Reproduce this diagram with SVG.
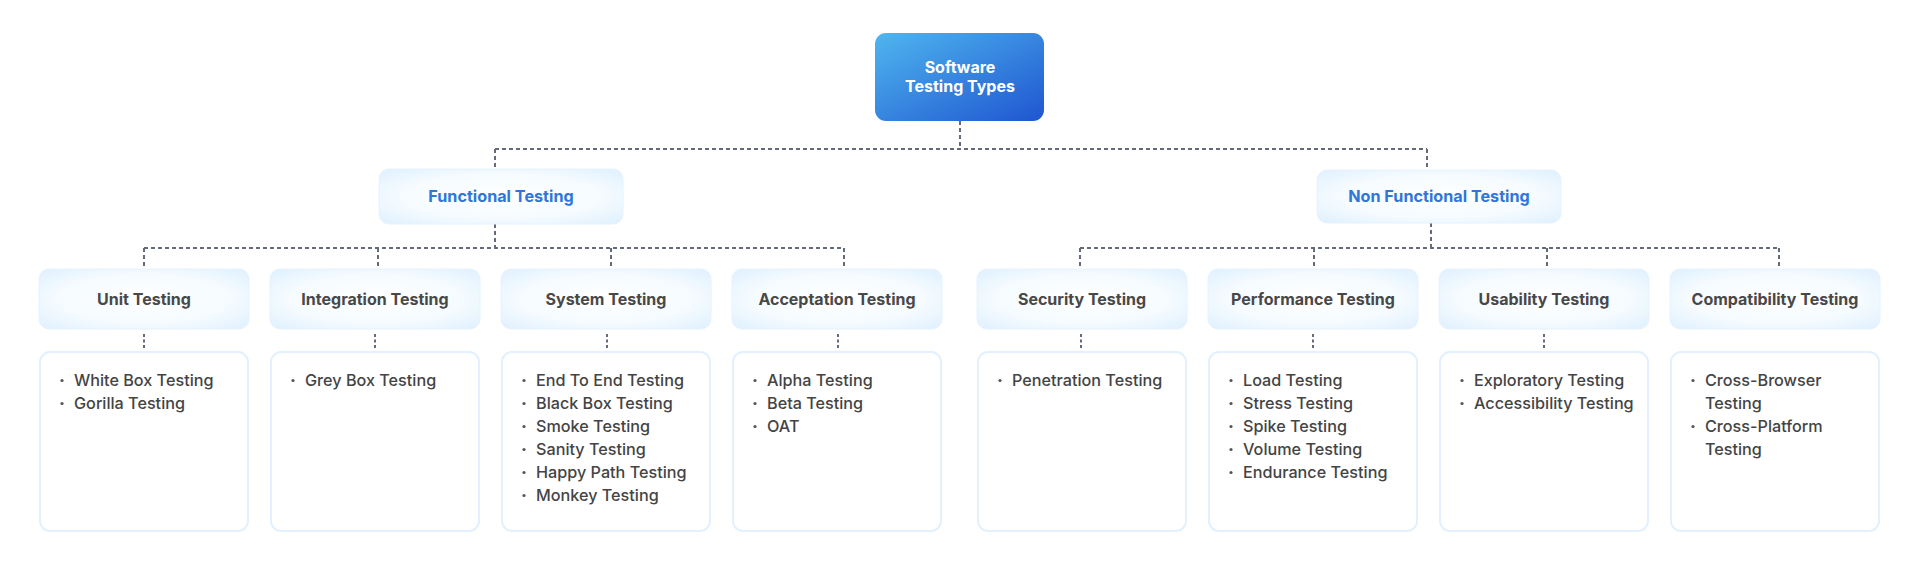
<svg xmlns="http://www.w3.org/2000/svg" width="1920" height="566" viewBox="0 0 1920 566">
<defs>
<linearGradient id="rootGrad" x1="0" y1="0" x2="1" y2="1">
<stop offset="0" stop-color="#4FB6EF"/>
<stop offset="1" stop-color="#1F55D0"/>
</linearGradient>
<radialGradient id="softGrad" cx="0.5" cy="0.5" r="0.75">
<stop offset="0" stop-color="#FFFFFF"/>
<stop offset="0.55" stop-color="#F5FBFF"/>
<stop offset="1" stop-color="#DAEEFE"/>
</radialGradient>
<style>
.soft{fill:url(#softGrad);stroke:#E6F3FE;stroke-width:1}
.detail{fill:#FFFFFF;stroke:#E2F1FD;stroke-width:2}
.conn{fill:none;stroke:#646B78;stroke-width:2;stroke-dasharray:4 3}
.small{fill:none;stroke:#646B78;stroke-width:2;stroke-dasharray:3 2.5}
.root-t{font-family:Inter,"Open Sans",sans-serif;font-weight:700;font-size:16px;fill:#FFFFFF;text-anchor:middle}
.blue-t{font-family:Inter,"Open Sans",sans-serif;font-weight:700;font-size:16.2px;fill:#2F76D9;text-anchor:middle}
.head-t{font-family:Inter,"Open Sans",sans-serif;font-weight:700;font-size:16px;fill:#484848;text-anchor:middle}
.item-t{font-family:Inter,"Open Sans",sans-serif;font-weight:500;font-size:16.2px;fill:#444444}
.dot{fill:#555555}
</style>
</defs>
<rect width="1920" height="566" fill="#FFFFFF"/>

<g id="connectors">
<path class="conn" d="M960 121 V149 M495 149 H1427 M495 149 V169 M1427 149 V170"/>
<path class="conn" d="M495 224 V248 M144 248 H844 M144 248 V269 M378 248 V269 M611 248 V269 M844 248 V269"/>
<path class="conn" d="M1431 223 V248 M1080 248 H1779 M1080 248 V269 M1314 248 V269 M1547 248 V269 M1779 248 V269"/>
<path class="small" d="M144 334 V350 M375 334 V350 M607 334 V350 M838 334 V350 M1081 334 V350 M1313 334 V350 M1544 334 V350"/>
</g>

<g id="root">
<rect x="875" y="33" width="169" height="88" rx="11" fill="url(#rootGrad)"/>
<text class="root-t" x="960" y="73">Software</text>
<text class="root-t" x="960" y="92">Testing Types</text>
</g>

<g id="functional">
<rect class="soft" x="379" y="169" width="244" height="55" rx="10"/>
<text class="blue-t" x="501" y="202">Functional Testing</text>
</g>
<g id="nonfunctional">
<rect class="soft" x="1317" y="170" width="244" height="53" rx="10"/>
<text class="blue-t" x="1439" y="202">Non Functional Testing</text>
</g>

<g id="unit">
<rect class="soft" x="39" y="269" width="210" height="60" rx="10"/>
<text class="head-t" x="144" y="304.5">Unit Testing</text>
</g>
<g id="integration">
<rect class="soft" x="270" y="269" width="210" height="60" rx="10"/>
<text class="head-t" x="375" y="304.5">Integration Testing</text>
</g>
<g id="system">
<rect class="soft" x="501" y="269" width="210" height="60" rx="10"/>
<text class="head-t" x="606" y="304.5">System Testing</text>
</g>
<g id="acceptance">
<rect class="soft" x="732" y="269" width="210" height="60" rx="10"/>
<text class="head-t" x="837" y="304.5">Acceptation Testing</text>
</g>
<g id="security">
<rect class="soft" x="977" y="269" width="210" height="60" rx="10"/>
<text class="head-t" x="1082" y="304.5">Security Testing</text>
</g>
<g id="performance">
<rect class="soft" x="1208" y="269" width="210" height="60" rx="10"/>
<text class="head-t" x="1313" y="304.5">Performance Testing</text>
</g>
<g id="usability">
<rect class="soft" x="1439" y="269" width="210" height="60" rx="10"/>
<text class="head-t" x="1544" y="304.5">Usability Testing</text>
</g>
<g id="compatibility">
<rect class="soft" x="1670" y="269" width="210" height="60" rx="10"/>
<text class="head-t" x="1775" y="304.5">Compatibility Testing</text>
</g>

<g id="unit-details">
<rect class="detail" x="40" y="352" width="208" height="179" rx="10"/>
<circle class="dot" cx="62" cy="380.5" r="1.6"/><text class="item-t" x="74" y="385.5">White Box Testing</text>
<circle class="dot" cx="62" cy="403.5" r="1.6"/><text class="item-t" x="74" y="408.5">Gorilla Testing</text>
</g>
<g id="integration-details">
<rect class="detail" x="271" y="352" width="208" height="179" rx="10"/>
<circle class="dot" cx="293" cy="380.5" r="1.6"/><text class="item-t" x="305" y="385.5">Grey Box Testing</text>
</g>
<g id="system-details">
<rect class="detail" x="502" y="352" width="208" height="179" rx="10"/>
<circle class="dot" cx="524" cy="380.5" r="1.6"/><text class="item-t" x="536" y="385.5">End To End Testing</text>
<circle class="dot" cx="524" cy="403.5" r="1.6"/><text class="item-t" x="536" y="408.5">Black Box Testing</text>
<circle class="dot" cx="524" cy="426.5" r="1.6"/><text class="item-t" x="536" y="431.5">Smoke Testing</text>
<circle class="dot" cx="524" cy="449.5" r="1.6"/><text class="item-t" x="536" y="454.5">Sanity Testing</text>
<circle class="dot" cx="524" cy="472.5" r="1.6"/><text class="item-t" x="536" y="477.5">Happy Path Testing</text>
<circle class="dot" cx="524" cy="495.5" r="1.6"/><text class="item-t" x="536" y="500.5">Monkey Testing</text>
</g>
<g id="acceptance-details">
<rect class="detail" x="733" y="352" width="208" height="179" rx="10"/>
<circle class="dot" cx="755" cy="380.5" r="1.6"/><text class="item-t" x="767" y="385.5">Alpha Testing</text>
<circle class="dot" cx="755" cy="403.5" r="1.6"/><text class="item-t" x="767" y="408.5">Beta Testing</text>
<circle class="dot" cx="755" cy="426.5" r="1.6"/><text class="item-t" x="767" y="431.5">OAT</text>
</g>
<g id="security-details">
<rect class="detail" x="978" y="352" width="208" height="179" rx="10"/>
<circle class="dot" cx="1000" cy="380.5" r="1.6"/><text class="item-t" x="1012" y="385.5">Penetration Testing</text>
</g>
<g id="performance-details">
<rect class="detail" x="1209" y="352" width="208" height="179" rx="10"/>
<circle class="dot" cx="1231" cy="380.5" r="1.6"/><text class="item-t" x="1243" y="385.5">Load Testing</text>
<circle class="dot" cx="1231" cy="403.5" r="1.6"/><text class="item-t" x="1243" y="408.5">Stress Testing</text>
<circle class="dot" cx="1231" cy="426.5" r="1.6"/><text class="item-t" x="1243" y="431.5">Spike Testing</text>
<circle class="dot" cx="1231" cy="449.5" r="1.6"/><text class="item-t" x="1243" y="454.5">Volume Testing</text>
<circle class="dot" cx="1231" cy="472.5" r="1.6"/><text class="item-t" x="1243" y="477.5">Endurance Testing</text>
</g>
<g id="usability-details">
<rect class="detail" x="1440" y="352" width="208" height="179" rx="10"/>
<circle class="dot" cx="1462" cy="380.5" r="1.6"/><text class="item-t" x="1474" y="385.5">Exploratory Testing</text>
<circle class="dot" cx="1462" cy="403.5" r="1.6"/><text class="item-t" x="1474" y="408.5">Accessibility Testing</text>
</g>
<g id="compatibility-details">
<rect class="detail" x="1671" y="352" width="208" height="179" rx="10"/>
<circle class="dot" cx="1693" cy="380.5" r="1.6"/><text class="item-t" x="1705" y="385.5">Cross-Browser</text>
<text class="item-t" x="1705" y="408.5">Testing</text>
<circle class="dot" cx="1693" cy="426.5" r="1.6"/><text class="item-t" x="1705" y="431.5">Cross-Platform</text>
<text class="item-t" x="1705" y="454.5">Testing</text>
</g>
</svg>
